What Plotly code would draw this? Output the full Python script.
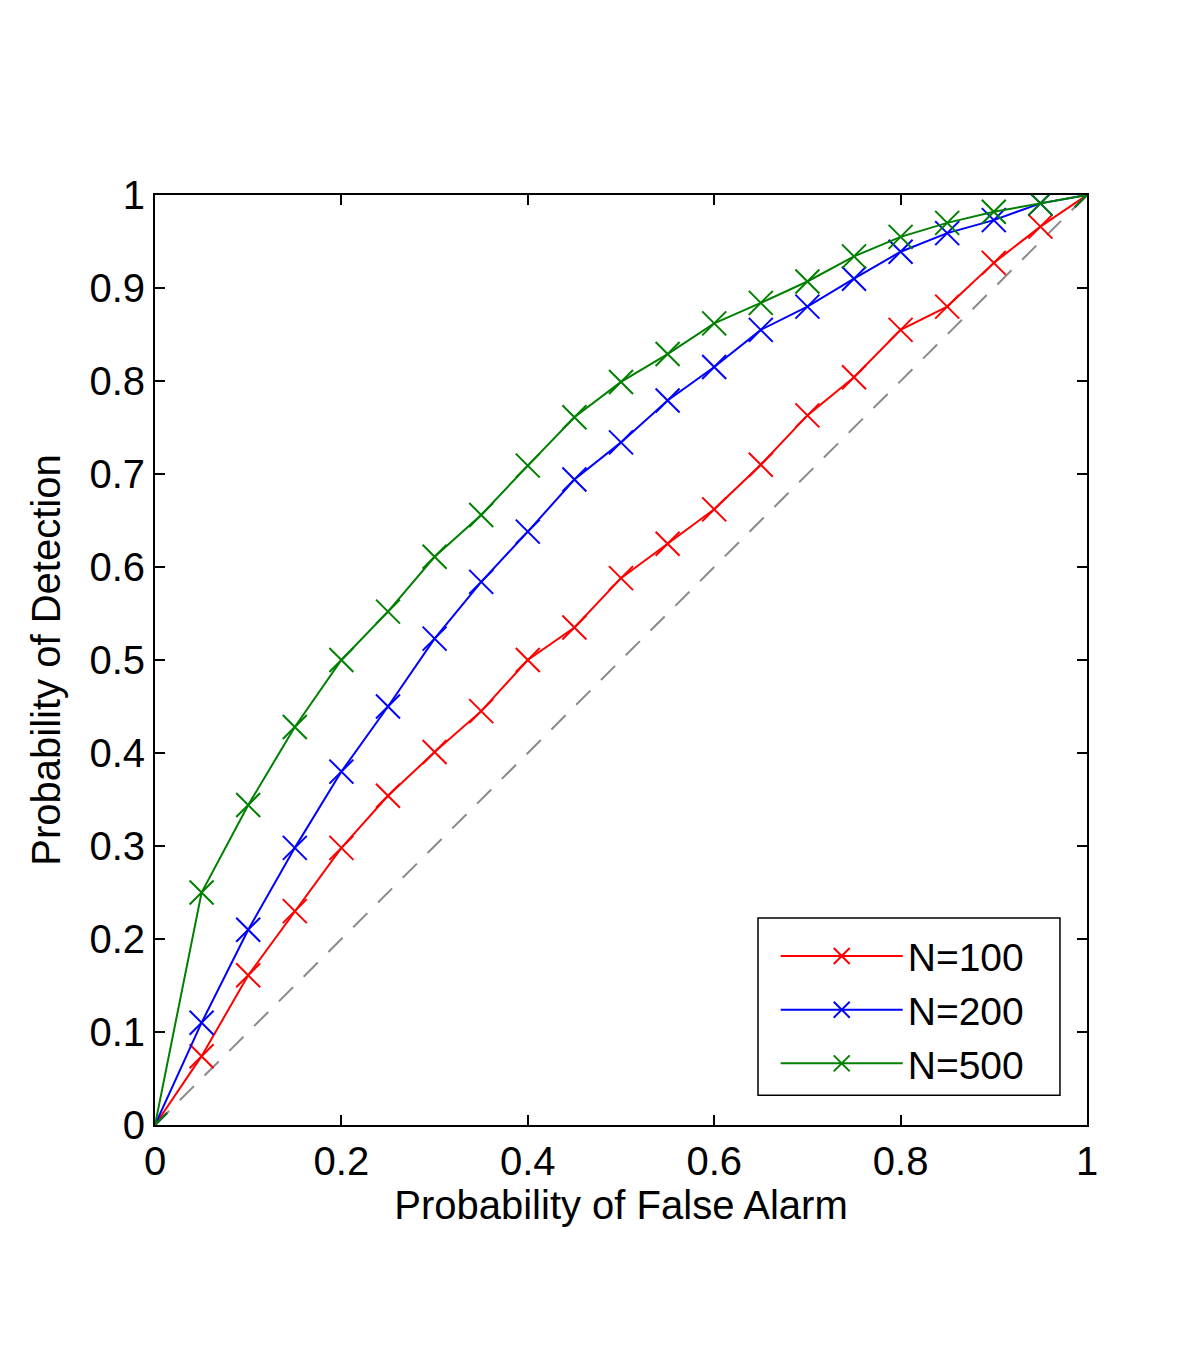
import plotly.graph_objects as go

# false alarm probabilities (x) shared by all curves
pfa = [0, 0.05, 0.1, 0.15, 0.2, 0.25, 0.3, 0.35, 0.4, 0.45, 0.5,
       0.55, 0.6, 0.65, 0.7, 0.75, 0.8, 0.85, 0.9, 0.95, 1.0]

# detection probabilities
pd_n100 = [0, 0.074, 0.161, 0.230, 0.298, 0.354, 0.401, 0.445, 0.500, 0.535, 0.588,
           0.625, 0.662, 0.710, 0.763, 0.804, 0.855, 0.880, 0.927, 0.966, 1.0]
pd_n200 = [0, 0.110, 0.210, 0.298, 0.380, 0.450, 0.523, 0.584, 0.638, 0.694, 0.734,
           0.779, 0.815, 0.855, 0.880, 0.910, 0.939, 0.959, 0.973, 0.991, 1.0]
pd_n500 = [0, 0.250, 0.344, 0.428, 0.500, 0.552, 0.611, 0.656, 0.709, 0.761, 0.799,
           0.829, 0.862, 0.884, 0.907, 0.934, 0.955, 0.970, 0.982, 0.991, 1.0]

chance_x = [0, 1]
chance_y = [0, 1]

yticks = [0, 0.1, 0.2, 0.3, 0.4, 0.5, 0.6, 0.7, 0.8, 0.9, 1]
ytick_text = ["0", "0.1", "0.2", "0.3", "0.4", "0.5", "0.6", "0.7", "0.8", "0.9", "1"]
xticks = [0, 0.2, 0.4, 0.6, 0.8, 1]
xtick_text = ["0", "0.2", "0.4", "0.6", "0.8", "1"]

font_name = "Liberation Sans, Arial, Helvetica, sans-serif"

fig = go.Figure()

# Zufallslinie (gestrichelt, grau)
fig.add_trace(go.Scatter(
    x=chance_x, y=chance_y, mode="lines", showlegend=False,
    line=dict(color="#8a8a8a", width=2, dash="20px,15px"),
    hoverinfo="skip"
))

for name, vals, col in [("N=100", pd_n100, "#ff0000"),
                        ("N=200", pd_n200, "#0000ff"),
                        ("N=500", pd_n500, "#008000")]:
    fig.add_trace(go.Scatter(
        x=pfa, y=vals, mode="lines+markers", name=name,
        line=dict(color=col, width=2),
        marker=dict(symbol="x-thin", size=24, color=col,
                    line=dict(color=col, width=2))
    ))

axis_common = dict(
    showgrid=False, zeroline=False, showline=True, linecolor="black", linewidth=2,
    mirror="ticks", ticks="inside", ticklen=10, tickwidth=1.5, tickcolor="black",
    tickfont=dict(size=40, color="black", family=font_name),
    range=[0, 1],
)

fig.update_xaxes(**axis_common, tickvals=xticks, ticktext=xtick_text,
                 title=dict(text="Probability of False Alarm", standoff=8,
                            font=dict(size=40, color="black", family=font_name)))
fig.update_yaxes(**axis_common, tickvals=yticks, ticktext=ytick_text,
                 title=dict(text="Probability of Detection", standoff=16,
                            font=dict(size=40, color="black", family=font_name)))

# Legendenrahmen wie im Original (breiter als der plotly-Standard)
fig.add_shape(type="rect", xref="paper", yref="paper",
              x0=0.647, x1=0.971, y0=0.032, y1=0.2226,
              line=dict(color="black", width=1.5), fillcolor="white", layer="above")

fig.update_layout(
    width=1200, height=1371,
    margin=dict(l=147, r=121, t=187, b=254),
    plot_bgcolor="white", paper_bgcolor="white",
    font=dict(family=font_name, color="black"),
    legend=dict(
        x=0.666, y=0.216, xanchor="left", yanchor="top",
        bgcolor="rgba(0,0,0,0)", borderwidth=0,
        font=dict(size=39, color="black", family=font_name),
        itemwidth=122, tracegroupgap=0,
    ),
)

fig.write_html("out.html")
